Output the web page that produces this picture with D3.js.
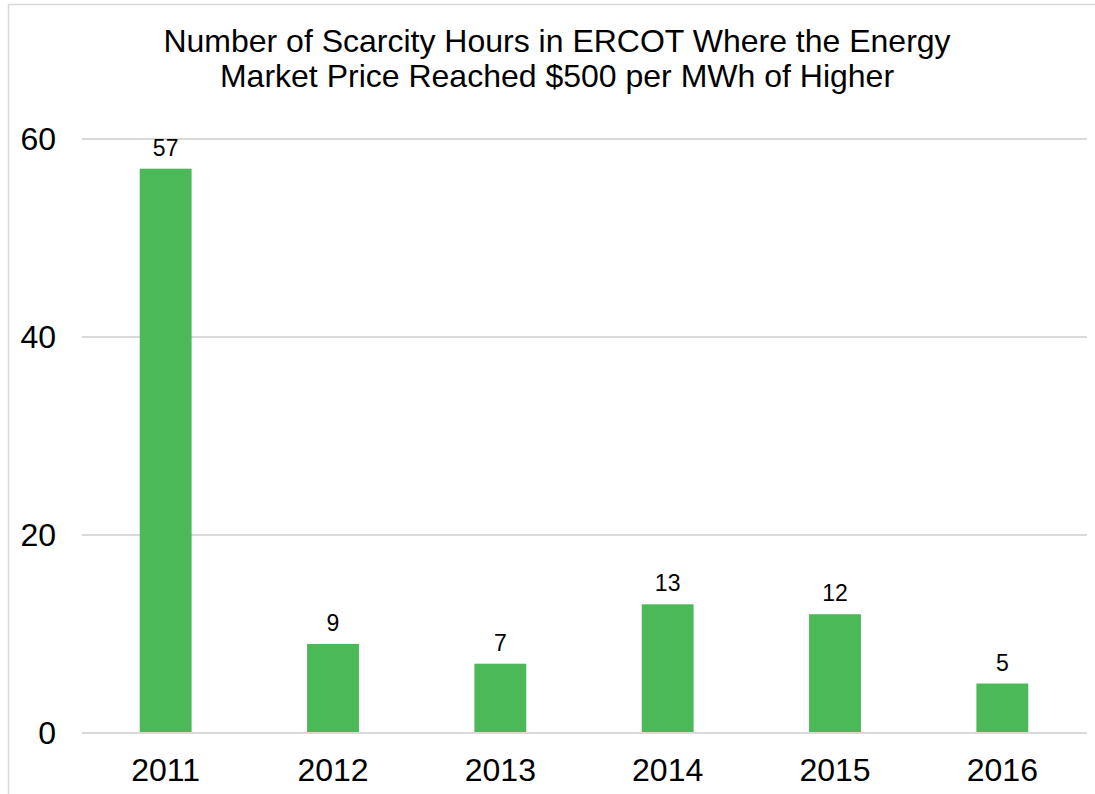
<!DOCTYPE html>
<html lang="en">
<head>
    <meta charset="UTF-8">
    <title>ERCOT scarcity hours</title>
    <script src="https://d3js.org/d3.v7.min.js"></script>
    <style>
        body { margin: 0; background: #fff; }
        text { font-family: "Liberation Sans", Arial, sans-serif; }
    </style>
</head>
<body>
    <svg width="1095" height="794"></svg>
    <script>
        // data
        const years = ['2011', '2012', '2013', '2014', '2015', '2016'];
        const hours = [57, 9, 7, 13, 12, 5];
        const yTicks = [0, 20, 40, 60];
        const titleLines = [
            'Number of Scarcity Hours in ERCOT Where the Energy',
            'Market Price Reached $500 per MWh of Higher'
        ];

        const svg = d3.select('svg');
        const data = years.map((y, i) => ({ year: y, value: hours[i] }));

        // light frame round the chart (top + left visible)
        svg.append('line')
            .attr('x1', 8).attr('x2', 1095).attr('y1', 4.5).attr('y2', 4.5)
            .attr('stroke', '#d9d9d9').attr('stroke-width', 1.5);
        svg.append('line')
            .attr('x1', 8.5).attr('x2', 8.5).attr('y1', 4).attr('y2', 794)
            .attr('stroke', '#d9d9d9').attr('stroke-width', 1.5);

        const x = d3.scaleBand()
            .domain(years)
            .range([82, 1086])
            .paddingInner(0.69)
            .paddingOuter(0.345);

        const y = d3.scaleLinear()
            .domain([0, 60])
            .range([733, 139]);

        // gridlines
        svg.append('g')
            .selectAll('line')
            .data(yTicks)
            .join('line')
            .attr('x1', 82).attr('x2', 1087)
            .attr('y1', d => y(d)).attr('y2', d => y(d))
            .attr('stroke', '#d9d9d9')
            .attr('stroke-width', 2);

        // y tick labels
        const yAxis = d3.axisLeft(y).tickValues(yTicks).tickSize(0).tickPadding(0);
        svg.append('g')
            .attr('transform', 'translate(56,0)')
            .call(yAxis)
            .call(g => g.select('.domain').remove())
            .selectAll('text')
            .attr('font-size', 32)
            .attr('fill', '#000')
            .attr('font-family', '"Liberation Sans", Arial, sans-serif');

        // bars
        svg.append('g')
            .selectAll('rect')
            .data(data)
            .join('rect')
            .attr('x', d => x(d.year))
            .attr('width', x.bandwidth())
            .attr('y', d => y(d.value))
            .attr('height', d => y(0) - y(d.value))
            .attr('fill', '#4bb958');

        // redraw base line over bars
        svg.append('line')
            .attr('x1', 82).attr('x2', 1087)
            .attr('y1', y(0)).attr('y2', y(0))
            .attr('stroke', '#d9d9d9').attr('stroke-width', 2);

        // value labels
        svg.append('g')
            .selectAll('text')
            .data(data)
            .join('text')
            .attr('x', d => x(d.year) + x.bandwidth() / 2)
            .attr('y', d => y(d.value) - 13)
            .attr('text-anchor', 'middle')
            .attr('font-size', 23)
            .attr('fill', '#000')
            .text(d => d.value);

        // x axis labels
        const xAxis = d3.axisBottom(x).tickSize(0).tickPadding(0);
        svg.append('g')
            .attr('transform', 'translate(0,758)')
            .call(xAxis)
            .call(g => g.select('.domain').remove())
            .selectAll('text')
            .attr('font-size', 32)
            .attr('fill', '#000')
            .attr('font-family', '"Liberation Sans", Arial, sans-serif');

        // title
        svg.append('g')
            .selectAll('text')
            .data(titleLines)
            .join('text')
            .attr('x', 557)
            .attr('y', (d, i) => 52 + i * 35)
            .attr('text-anchor', 'middle')
            .attr('font-size', 32)
            .attr('fill', '#000')
            .text(d => d);
    </script>
</body>
</html>
